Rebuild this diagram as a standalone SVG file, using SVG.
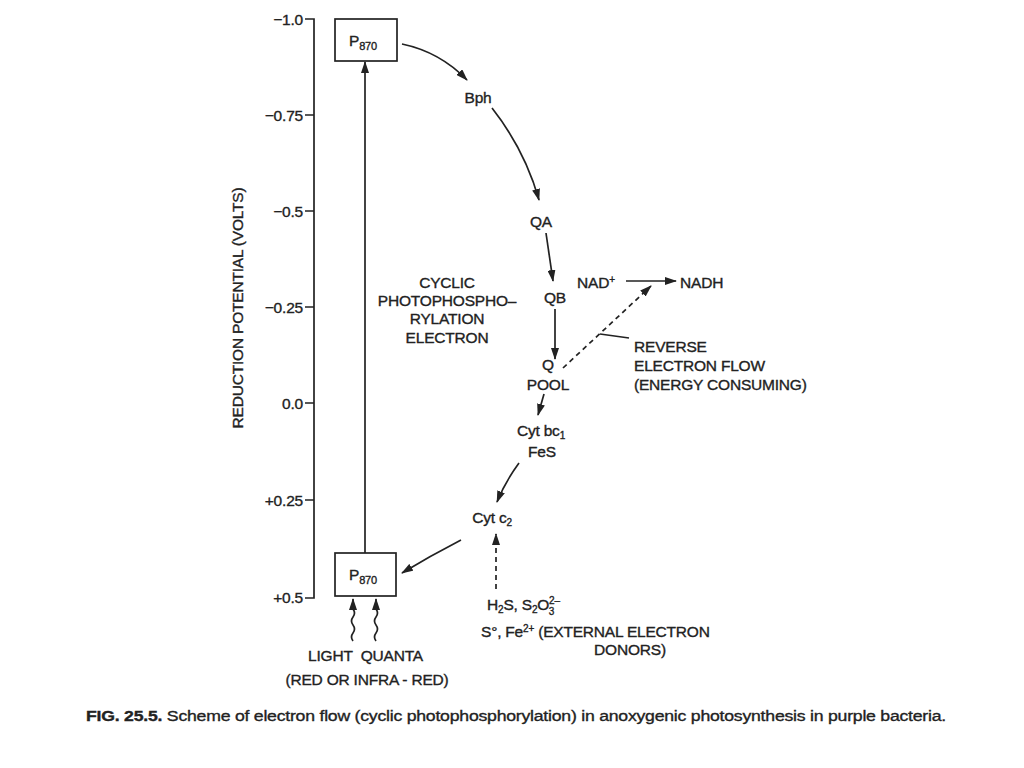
<svg xmlns="http://www.w3.org/2000/svg" width="1024" height="768" viewBox="0 0 1024 768">
<defs>
<style>
text{font-family:"Liberation Sans",Arial,sans-serif;font-size:15.5px;fill:#222;stroke:#222;stroke-width:0.35;letter-spacing:-0.2px}
.c{text-anchor:middle}
.r{text-anchor:end}
.ln{fill:none;stroke:#222;stroke-width:1.7}
.dash{fill:none;stroke:#222;stroke-width:1.7;stroke-dasharray:5,4}
.box{fill:#fff;stroke:#222;stroke-width:1.7}
</style>
<marker id="ah" viewBox="0 0 12 8" refX="11" refY="4" markerWidth="12" markerHeight="8" markerUnits="userSpaceOnUse" orient="auto">
<path d="M0,0 L12,4 L0,8 z" fill="#222"/>
</marker>
</defs>
<rect width="1024" height="768" fill="#fff"/>

<g id="axis">
<path class="ln" d="M305,19 H314 V598 H305 M305,115 H314 M305,211 H314 M305,307 H314 M305,403 H314 M305,500 H314"/>
<text class="r" x="303" y="25">−1.0</text>
<text class="r" x="303" y="121">−0.75</text>
<text class="r" x="303" y="217">−0.5</text>
<text class="r" x="303" y="313">−0.25</text>
<text class="r" x="303" y="409">0.0</text>
<text class="r" x="303" y="506">+0.25</text>
<text class="r" x="303" y="603">+0.5</text>
<text class="c" transform="translate(243,308) rotate(-90)" font-size="16">REDUCTION POTENTIAL (VOLTS)</text>
</g>

<g id="connectors">
<path class="ln" d="M365,553 V62" marker-end="url(#ah)"/>
<path class="ln" d="M402,44 Q440,52 467,80" marker-end="url(#ah)"/>
<path class="ln" d="M492,108 Q525,150 539,200" marker-end="url(#ah)"/>
<path class="ln" d="M546,233 L553,281" marker-end="url(#ah)"/>
<path class="ln" d="M555,309 V359" marker-end="url(#ah)"/>
<path class="ln" d="M544,394 L538,415" marker-end="url(#ah)"/>
<path class="ln" d="M519,463 Q505,482 497,502" marker-end="url(#ah)"/>
<path class="ln" d="M461,540 Q430,556 402,573" marker-end="url(#ah)"/>
<path class="ln" d="M626,281 H676" marker-end="url(#ah)"/>
<path class="dash" d="M563,368 L651,286" marker-end="url(#ah)"/>
<path class="ln" d="M600,334 L629,338"/>
<path class="dash" d="M496,589 V534" marker-end="url(#ah)"/>
<path class="ln" d="M353,641 q-3,-4 0,-8 q3,-4 0,-8 q-3,-4 0,-8 q3,-4 0,-8 V599" marker-end="url(#ah)"/>
<path class="ln" d="M376,641 q-3,-4 0,-8 q3,-4 0,-8 q-3,-4 0,-8 q3,-4 0,-8 V599" marker-end="url(#ah)"/>
</g>

<g id="p870-top">
<rect class="box" x="335" y="19" width="62" height="42"/>
<text x="349" y="46">P<tspan font-size="11" dy="4">870</tspan></text>
</g>
<g id="p870-bottom">
<rect class="box" x="335" y="553" width="61" height="43"/>
<text x="349" y="580">P<tspan font-size="11" dy="4">870</tspan></text>
</g>
<g id="bph"><text class="c" x="478" y="103">Bph</text></g>
<g id="qa"><text class="c" x="541" y="227">QA</text></g>
<g id="qb"><text class="c" x="555" y="303">QB</text></g>
<g id="qpool"><text class="c" x="548" y="370">Q</text><text class="c" x="548" y="390">POOL</text></g>
<g id="cytbc1"><text class="c" x="541" y="436">Cyt bc<tspan font-size="10" dy="3">1</tspan></text><text class="c" x="542" y="457">FeS</text></g>
<g id="cytc2"><text class="c" x="492" y="523">Cyt c<tspan font-size="10" dy="3">2</tspan></text></g>
<g id="nad"><text x="577" y="288">NAD<tspan font-size="10" dy="-5">+</tspan></text></g>
<g id="nadh"><text x="680" y="288">NADH</text></g>
<g id="cyclic">
<text class="c" x="447" y="288">CYCLIC</text>
<text class="c" x="447" y="306">PHOTOPHOSPHO–</text>
<text class="c" x="447" y="324">RYLATION</text>
<text class="c" x="447" y="343">ELECTRON</text>
</g>
<g id="reverse">
<text x="634" y="352">REVERSE</text>
<text x="634" y="371">ELECTRON FLOW</text>
<text x="634" y="390">(ENERGY CONSUMING)</text>
</g>
<g id="donors">
<text x="487" y="610">H<tspan font-size="10" dy="3">2</tspan><tspan dy="-3">S, S</tspan><tspan font-size="10" dy="3">2</tspan><tspan dy="-3">O</tspan><tspan font-size="10" dy="-6">2–</tspan><tspan font-size="10" dx="-11" dy="11">3</tspan></text>
<text x="481" y="637">S°, Fe<tspan font-size="10" dy="-5">2+</tspan><tspan dy="5"> (EXTERNAL ELECTRON</tspan></text>
<text class="c" x="630" y="655">DONORS)</text>
</g>
<g id="light">
<text x="308" y="661">LIGHT<tspan dx="8">QUANTA</tspan></text>
<text class="c" x="367" y="685">(RED OR INFRA - RED)</text>
</g>
<g id="caption">
<text x="86" y="721" font-size="14.5" textLength="860" lengthAdjust="spacingAndGlyphs"><tspan font-weight="bold">FIG. 25.5.</tspan> Scheme of electron flow (cyclic photophosphorylation) in anoxygenic photosynthesis in purple bacteria.</text>
</g>
</svg>
